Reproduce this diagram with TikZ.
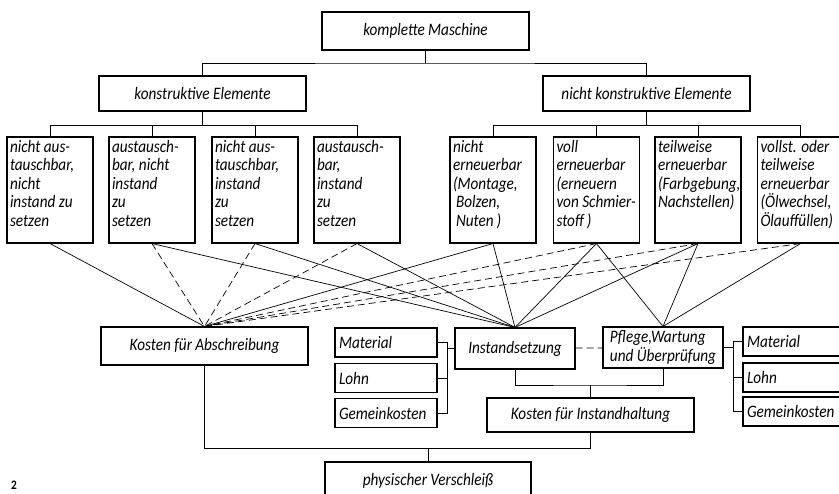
\documentclass[tikz,border=0pt]{standalone}
\usepackage{fontspec}
\setmainfont{Carlito}[FakeStretch=0.87]
\newcommand{\cell}[1]{\parbox[c][100pt][t]{80pt}{\raggedright #1}}
\begin{document}
\begin{tikzpicture}[x=1pt,y=-1pt,line width=0.7pt,
        box/.style={draw,line width=1.1pt,inner sep=3pt,font=\itshape\fontsize{17.5}{18.5}\selectfont},
        wide/.style={box,minimum width=207pt,minimum height=#1},
        elem/.style={box,inner sep=3pt},
        posten/.style={box,minimum width=102pt,minimum height=29pt,text width=94pt,align=left},
        mitte/.style={box,minimum width=120pt,minimum height=41pt,inner ysep=1pt},
        gestr/.style={dash pattern=on 7pt off 4pt}]
        \useasboundingbox (0,0) rectangle (839,494);
        % obere Ebene
        \node[wide=38pt] (masch) at (425.5,31) {komplette Maschine};
        \node[wide=35pt] (konst) at (202.5,93.5) {konstruktive Elemente};
        \node[wide=35pt] (nkonst) at (646.5,93.5) {nicht konstruktive Elemente};
        \draw (masch) -- (masch |- 0,63);
        \draw (konst) |- (masch |- 0,63) -| (nkonst);
        % Elemente
        \node[elem] (b1) at (50,190) {\cell{nicht aus-\\tauschbar,\\nicht\\instand zu\\setzen}};
        \node[elem] (b2) at (152,190) {\cell{austausch-\\bar, nicht\\instand\\zu\\setzen}};
        \node[elem] (b3) at (255,190) {\cell{nicht aus-\\tauschbar,\\instand\\zu\\setzen}};
        \node[elem] (b4) at (357,190) {\cell{austausch-\\bar,\\instand\\zu\\setzen}};
        \node[elem] (b5) at (493,190) {\cell{nicht\\erneuerbar\\(Montage,\\\hspace{3pt}Bolzen,\\\hspace{3pt}Nuten\,)}};
        \node[elem] (b6) at (596.5,190) {\cell{voll\\erneuerbar\\(erneuern\\von Schmier-\\stoff\,)}};
        \node[elem] (b7) at (698,190) {\cell{teilweise\\erneuerbar\\(Farbgebung,\\Nachstellen)}};
        \node[elem] (b8) at (800.5,190) {\cell{vollst. oder\\teilweise\\erneuerbar\\(Ölwechsel,\\Ölauffüllen)}};
        \draw (konst) -- (konst |- 0,125);
        \foreach \b in {b1,b2,b3,b4}
            \draw (konst |- 0,125) -| (\b);
        \draw (nkonst) -- (nkonst |- 0,125);
        \foreach \b in {b5,b6,b7,b8}
            \draw (nkonst |- 0,125) -| (\b);
        % Kosten
        \node[wide=38pt] (abschr) at (204.5,346) {Kosten für Abschreibung};
        \node[mitte] (inst) at (515,348.5) {Instandsetzung};
        \node[mitte,align=left] (pfl) at (663,347.5) {Pflege,Wartung\\und Überprüfung};
        \node[wide=34pt] (ihalt) at (590.5,415) {Kosten für Instandhaltung};
        \node[box,minimum width=206pt,minimum height=38pt] (phys) at (428,481) {physischer Verschleiß};
        \node[posten] (mat1) at (386,342.5) {Material};
        \node[posten] (lohn1) at (386,378) {Lohn};
        \node[posten] (gk1) at (386,413) {Gemeinkosten};
        \node[posten] (mat2) at (794,341.5) {Material};
        \node[posten] (lohn2) at (794,377.5) {Lohn};
        \node[posten] (gk2) at (794,411.5) {Gemeinkosten};
        \node[anchor=north,inner sep=0pt,font=\bfseries\fontsize{13}{13}\selectfont] (nr) at (14,481) {2};
        % Zuordnung
        \foreach \b in {b1,b5}
            \draw (\b.south) -- (abschr.north);
        \foreach \b in {b2,b3,b4,b6,b7,b8}
            \draw[gestr] (\b.south) -- (abschr.north);
        \foreach \b in {b2,b3,b4,b5,b6,b7}
            \draw (\b.south) -- (inst.north);
        \foreach \b in {b6,b7,b8}
            \draw (\b.south) -- (pfl.north);
        % Klammern
        \coordinate (brl) at (447,0);
        \coordinate (brr) at (733,0);
        \draw (mat1) -| (brl |- gk1) -- (gk1);
        \draw (lohn1) -- (lohn1 -| brl);
        \draw (inst) -- (inst -| brl);
        \draw (mat2) -| (brr |- gk2) -- (gk2);
        \draw (lohn2) -- (lohn2 -| brr);
        \draw (pfl) -- (pfl -| brr);
        \draw[gestr] (inst) -- (pfl);
        \draw (inst.south) |- (ihalt |- 0,385) -| (pfl.south);
        \draw (ihalt) -- (ihalt |- 0,385);
        \draw (abschr.south) |- (ihalt |- 0,448) -- (ihalt.south);
        \draw (phys) -- (phys |- 0,448);
    \end{tikzpicture}
\end{document}
